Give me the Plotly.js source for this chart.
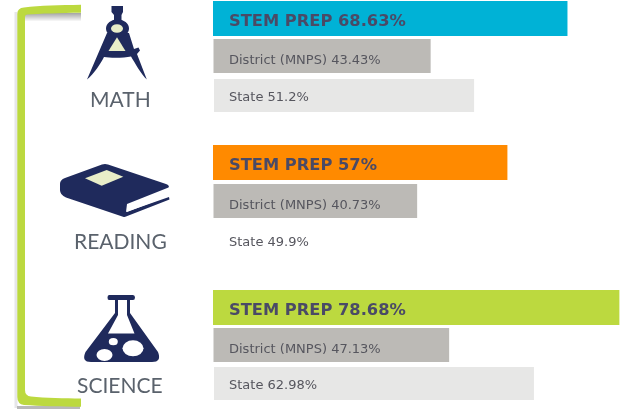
<!DOCTYPE html>
<html>
<head>
<meta charset="utf-8">
<script src="https://cdn.plot.ly/plotly-3.0.1.min.js"></script>
<style>
html,body{margin:0;padding:0;background:#fff;overflow:hidden}
#chart{width:628px;height:410px;filter:blur(0.45px)}
</style>
</head>
<body>
<div id="chart"></div>
<script>
// ---- values ----
const subjects = ['MATH', 'READING', 'SCIENCE'];
const stemPrep = [68.63, 57, 78.68];
const stemLabels = ['STEM PREP 68.63%', 'STEM PREP 57%', 'STEM PREP 78.68%'];
const district = [43.43, 40.73, 47.13];
const districtLabels = ['District (MNPS) 43.43%', 'District (MNPS) 40.73%', 'District (MNPS) 47.13%'];
const state = [51.2, 49.9, 62.98];
const stateLabels = ['State 51.2%', 'State 49.9%', 'State 62.98%'];

// ---- layout and style ----
const W = 628, H = 410;
const stemRows = [18.5, 162.5, 307.5], districtRows = [56, 201, 345], stateRows = [95.5, 241, 383.5];
const stemColors = ['#00b2d6', '#ff8a00', '#bcd93f'];
const stateColors = ['#e7e7e6', '#ffffff', '#e7e7e6'];
const NAVY = '#1f2a5c', CREAM = '#e8edc8', GREEN = '#bcd93f';

function range(originPx, pxPerUnit) { return [-originPx / pxPerUnit, (W - originPx) / pxPerUnit]; }
function hiddenX(originPx, pxPerUnit, extra) {
  return Object.assign({visible: false, domain: [0, 1], range: range(originPx, pxPerUnit), fixedrange: true}, extra || {});
}
const traces = [
  {type: 'bar', orientation: 'h', x: stemPrep, y: stemRows, width: 35, xaxis: 'x', yaxis: 'y',
   marker: {color: stemColors}, hoverinfo: 'skip', showlegend: false},
  {type: 'bar', orientation: 'h', x: district, y: districtRows, width: 34, xaxis: 'x2', yaxis: 'y',
   marker: {color: '#bcbab6'}, hoverinfo: 'skip', showlegend: false},
  {type: 'bar', orientation: 'h', x: state, y: stateRows, width: 33, xaxis: 'x3', yaxis: 'y',
   marker: {color: stateColors}, hoverinfo: 'skip', showlegend: false}
];

// shapes in page pixels, converted to paper fractions
const toPaper = s => s.replace(/(-?[\d.]+)[ ,]+(-?[\d.]+)/g, (m, a, b) => (a / W).toFixed(5) + ' ' + (1 - b / H).toFixed(5));
const path = (d, fill, opacity) => ({type: 'path', xref: 'paper', yref: 'paper', path: toPaper(d), fillcolor: fill,
  opacity: opacity === undefined ? 1 : opacity, line: {width: 0}, layer: 'above'});
const ell = (cx, cy, rx, ry, fill) => ({type: 'circle', xref: 'paper', yref: 'paper', x0: (cx - rx) / W, x1: (cx + rx) / W,
  y0: 1 - (cy + ry) / H, y1: 1 - (cy - ry) / H, fillcolor: fill, line: {width: 0}, layer: 'above'});
const rect = (x0, y0, x1, y1, fill, opacity) => path(`M ${x0} ${y0} L ${x1} ${y0} L ${x1} ${y1} L ${x0} ${y1} Z`, fill, opacity);

const shapes = [];
// bracket shadow
shapes.push(rect(14.5, 12, 17.5, 408, '#e6e6e9'));
for (let i = 0; i < 8; i++) shapes.push(rect(25, 13 + i, 81, 14 + i, '#8c8c8c', 0.75 * (1 - i / 8)));
shapes.push(rect(17, 406, 80, 409, '#a8a8a8', 0.8));
// bracket
shapes.push(path('M 81 4.7 L 81 12.7 C 60 13 40 13.5 27 14.5 Q 25 15 25 17 L 25 390 Q 25 396 31 396.5 C 45 398 65 398.3 81 398.5 L 81 406.7 C 60 406.7 40 406 24 405 Q 17.3 404 17.3 397 L 17.3 14 Q 17.3 8 24 7.5 C 40 5.5 60 5 81 4.7 Z', GREEN));

// compass
shapes.push(path('M 111.5 6 L 123 6 L 123 12 L 121.5 15 L 121.5 21 L 114 21 L 114 15 L 111.5 12 Z', NAVY));
shapes.push(path('M 107 33 L 87 79.5 C 94 74 101 63 104 57 C 110 58 124 58 131 56.5 C 135 63 141 74 146.8 79.5 L 137 54 L 140 50.5 L 138.5 47.5 L 134 49 L 129 33 Z', NAVY));
shapes.push(ell(117.5, 28.5, 11.5, 9.2, NAVY));
shapes.push(ell(117, 28.5, 6, 4.3, CREAM));
shapes.push(path('M 117 37.3 L 108.5 51 L 125.5 51 Z', CREAM));

// book
shapes.push(path('M 102 164.5 Q 105 163.5 108 164.5 L 166 184 Q 170 185.5 168.5 187.5 L 127 204 L 126 212 L 169 197 L 169.5 199.5 L 126 216.5 Q 125 217.3 123 216.8 L 66 197.5 Q 60 195 60 190 L 60 184 Q 60 180 65 178 Z', NAVY));
shapes.push(path('M 127.5 206.5 L 168.5 191 L 168.5 196 L 127 212 Z', '#ffffff'));
shapes.push(path('M 85 178.3 L 106.7 170 L 123.3 176.7 L 101.7 185.7 Z', CREAM));

// flask
shapes.push(path('M 109 295 L 133 295 Q 135 295 135 297.5 Q 135 300 133 300 L 130 300 L 130 313 L 158 352 Q 162 362 152 362 L 91 362 Q 81 362 85.5 352 L 115 313 L 115 300 L 109 300 Q 107.5 300 107.5 297.5 Q 107.5 295 109 295 Z', NAVY));
shapes.push(path('M 118 300 L 127 300 L 127 315 L 134.5 333.5 L 108 333.5 L 118 315 Z', '#ffffff'));
shapes.push(ell(113.3, 341.7, 4.5, 3.6, '#ffffff'));
shapes.push(ell(104.5, 355, 8, 6, '#ffffff'));
shapes.push(ell(133, 348.3, 10.5, 8, '#ffffff'));

// text
const annotations = [];
const label = (txt, xref, yPx, font, shift) => annotations.push({text: txt, xref: xref, yref: 'y', x: 0, y: yPx, xanchor: 'left', yanchor: 'middle',
  xshift: shift, showarrow: false, align: 'left', font: font});
const stemFont = {family: '"DejaVu Sans", sans-serif', size: 16.3, color: '#4a4a66', weight: 700};
const smallFont = {family: '"DejaVu Sans", sans-serif', size: 13, color: '#56565e'};
subjects.forEach((s, i) => {
  label(stemLabels[i], 'x', stemRows[i] + 1.5, stemFont, 14);
  label(districtLabels[i], 'x2', districtRows[i] + 3.5, smallFont, 13);
  label(stateLabels[i], 'x3', stateRows[i] + 0.5, smallFont, 13);
});
const subjectY = [98.5, 240.5, 384.5];
subjects.forEach((s, i) => annotations.push({text: s, xref: 'paper', yref: 'paper', x: 120 / W, y: 1 - subjectY[i] / H,
  xanchor: 'center', yanchor: 'middle', showarrow: false,
  font: {family: 'Lato, sans-serif', size: 21, color: '#5a626c'}}));

Plotly.newPlot('chart', traces, {
  width: W, height: H, margin: {l: 0, r: 0, t: 0, b: 0}, paper_bgcolor: '#ffffff', plot_bgcolor: '#ffffff',
  showlegend: false, barmode: 'overlay',
  xaxis: hiddenX(213, 5.165),
  xaxis2: hiddenX(213.5, 5.0, {overlaying: 'x'}),
  xaxis3: hiddenX(214, 5.08, {overlaying: 'x'}),
  yaxis: {visible: false, range: [H, 0], domain: [0, 1], fixedrange: true},
  shapes: shapes, annotations: annotations
}, {displayModeBar: false, staticPlot: true});
</script>
</body>
</html>
